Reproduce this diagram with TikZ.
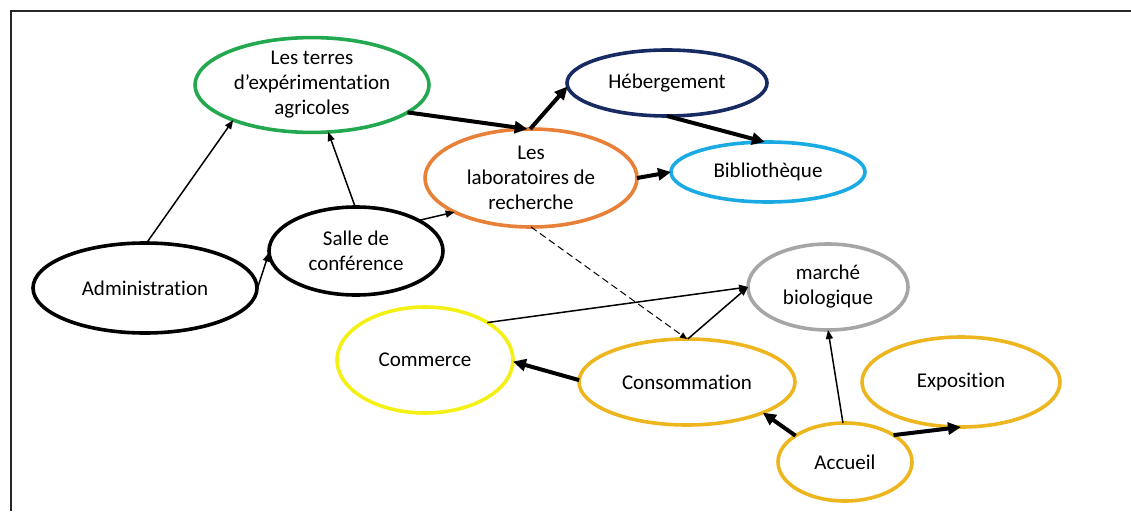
\documentclass[tikz,border=0pt]{standalone}
\usepackage{fontspec}
\setmainfont[Ligatures=NoCommon]{Carlito}
\usepackage{xcolor}
\usepackage{tikz}
\usetikzlibrary{shapes.geometric, arrows.meta}
\definecolor{CarteVert}{RGB}{34, 168, 78}
\definecolor{CarteOrange}{RGB}{232, 128, 56}
\definecolor{CarteMarine}{RGB}{24, 42, 98}
\definecolor{CarteCiel}{RGB}{26, 170, 228}
\definecolor{CarteGris}{RGB}{166, 166, 166}
\definecolor{CarteJaune}{RGB}{245, 240, 20}
\definecolor{CarteOr}{RGB}{238, 182, 30}

\tikzset{
  bulle/.style={ellipse, draw, line width=3.6pt, inner sep=0pt, outer sep=0pt, align=center,
    font=\fontsize{21}{25}\selectfont},
  fleche/.style={-{Triangle[length=9pt,width=7pt]}, line width=1.5pt},
  grosse/.style={-{Triangle[length=13pt,width=12pt]}, line width=4pt},
  pointille/.style={-{Triangle[length=7pt,width=6pt]}, line width=1pt, dash pattern=on 7pt off 4pt}
}

\begin{document}
\begin{tikzpicture}[x=1pt, y=-1pt]
    \path[use as bounding box] (0,0) rectangle (1131,511);
    \draw[line width=2pt, black!85] (11,511) -- (11,11) -- (1131,11);

    \node[bulle, draw=CarteVert, minimum width=234pt, minimum height=92pt] (terres) at (312,85)
      {Les terres\\d’expérimentation\\agricoles};
    \node[bulle, draw=black, minimum width=224pt, minimum height=90pt] (admin) at (145,288) {Administration};
    \node[bulle, draw=black, minimum width=174pt, minimum height=88pt] (salle) at (356,251) {Salle de\\conférence};
    \node[bulle, draw=CarteOrange, minimum width=212pt, minimum height=98pt] (labos) at (531,178)
      {Les\\laboratoires de\\recherche};
    \node[bulle, draw=CarteMarine, minimum width=200pt, minimum height=66pt] (heberg) at (667,83) {Hébergement};
    \node[bulle, draw=CarteCiel, minimum width=194pt, minimum height=60pt] (biblio) at (768,172) {Bibliothèque};
    \node[bulle, draw=CarteGris, minimum width=160pt, minimum height=86pt] (marche) at (828,287) {marché\\biologique};
    \node[bulle, draw=CarteJaune, minimum width=176pt, minimum height=106pt] (commerce) at (425,360) {Commerce};
    \node[bulle, draw=CarteOr, minimum width=216pt, minimum height=86pt] (conso) at (687,382) {Consommation};
    \node[bulle, draw=CarteOr, minimum width=198pt, minimum height=90pt] (expo) at (961,382) {Exposition};
    \node[bulle, draw=CarteOr, minimum width=134pt, minimum height=78pt] (accueil) at (845,462) {Accueil};

    \draw[fleche] (admin.88) -- (terres.204);
    \draw[fleche] (salle.91) -- (terres.289);
    \draw[fleche] (admin.359) -- (salle.181);
    \draw[fleche] (salle.26) -- (labos.204);
    \draw[grosse] (terres.344) -- (labos.94);
    \draw[grosse] (labos.91) -- (heberg.182);
    \draw[grosse] (heberg.270) -- (biblio.96);
    \draw[grosse] (labos.0) -- (biblio.180);
    \draw[pointille] (labos.270) -- (conso.90);
    \draw[fleche] (commerce.31) -- (marche.180);
    \draw[fleche] (conso.89) -- (marche.180);
    \draw[grosse] (conso.179) -- (commerce.359);
    \draw[grosse] (accueil.152) -- (conso.338);
    \draw[fleche] (accueil.93) -- (marche.270);
    \draw[grosse] (accueil.29) -- (expo.270);
\end{tikzpicture}
\end{document}
